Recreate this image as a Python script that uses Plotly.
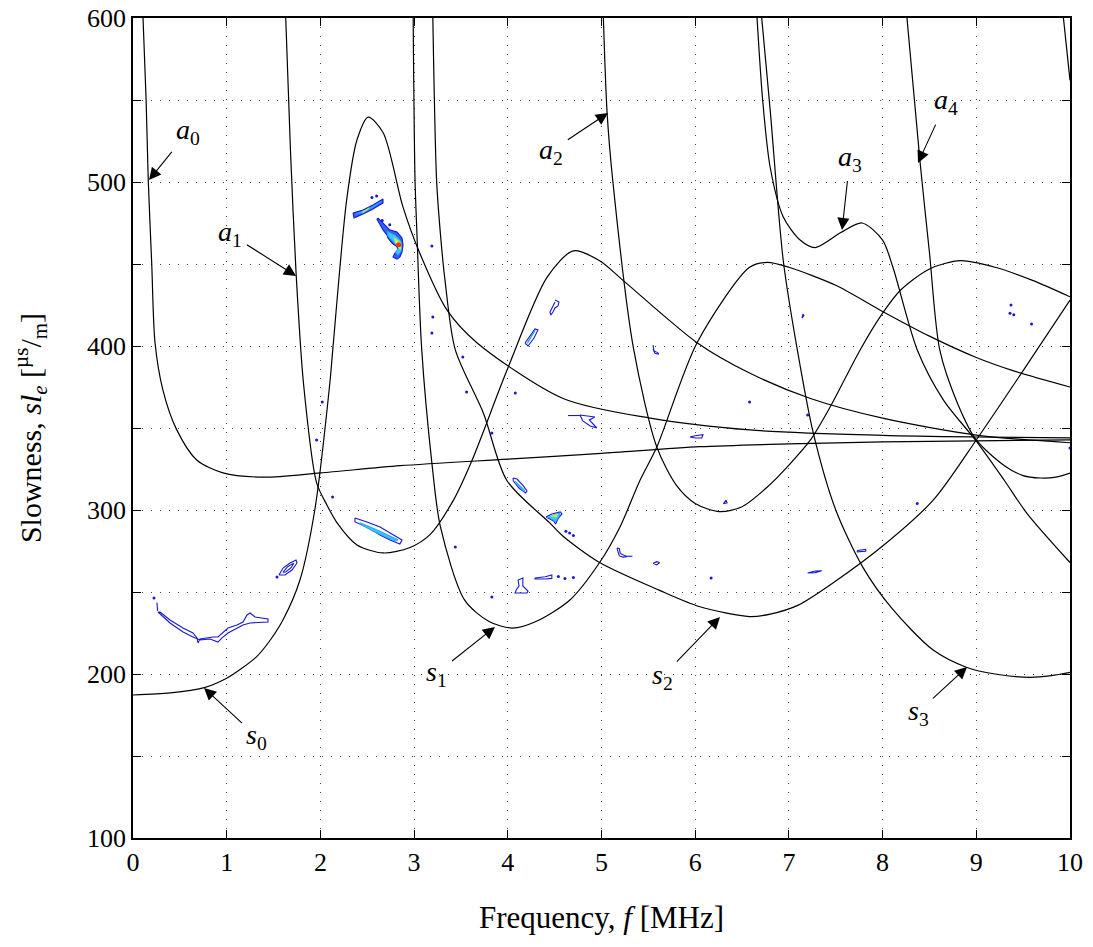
import plotly.graph_objects as go

# ---- Dispersion curves: frequency f [MHz] vs. slowness [us/m] ----
a0_f = [0.107, 0.14, 0.163, 0.20, 0.235, 0.32, 0.466, 0.68, 0.96, 1.39, 2.0, 2.85, 4.0, 5.0, 6.05, 7.0, 8.0, 9.0, 10.0]
a0_s = [600, 550, 501, 450, 402, 373, 349, 330.5, 322.6, 320, 322.6, 327, 331, 334.5, 338.6, 340.3, 341.5, 342.2, 342.7]

s0_f = [0.0, 0.4, 0.75, 1.0, 1.15, 1.32, 1.45, 1.6, 1.78, 1.94, 2.1, 2.134, 2.28, 2.39, 2.51, 2.67, 2.88, 3.06, 3.35, 3.67, 4.59, 5.52, 6.58, 8.0, 9.0, 10.0]
s0_s = [187.2, 188.5, 191.5, 197.4, 203, 210.6, 219.5, 232.9, 257, 300, 377, 399, 489, 525.6, 539.6, 530, 485, 456.7, 422, 402, 368, 356, 348.8, 345.5, 344.5, 344]

a1_f = [1.63, 1.68, 1.74, 1.82, 1.96, 2.07, 2.18, 2.39, 2.67, 2.95, 3.17, 3.42, 3.62, 3.99, 4.42, 4.70, 4.98, 5.23, 6.02, 6.58, 7.23, 8.0, 9.0, 10.0]
a1_s = [600, 520, 445, 377, 316.5, 303, 292, 278.7, 273.8, 277, 285, 306, 330.5, 385, 442, 458, 452, 440, 402, 383.5, 368, 356, 345.7, 341]

s1_f = [2.99, 3.01, 3.03, 3.08, 3.19, 3.28, 3.54, 3.8, 4.05, 4.3, 4.66, 4.98, 5.2, 5.41, 5.59, 6.02, 6.58, 6.77, 7.0, 7.5, 7.97, 8.5, 9.0, 9.39, 10.0]
s1_s = [600, 501, 469, 399, 328.6, 290, 245, 232, 228, 232, 245, 268, 290, 318, 338.4, 402, 448, 451, 448, 437, 422, 406, 393, 385, 375]

s2_f = [3.20, 3.24, 3.28, 3.33, 3.44, 3.74, 3.99, 4.45, 4.59, 4.98, 5.62, 6.05, 6.58, 6.8, 7.1, 7.47, 8.0, 8.54, 9.0, 9.5, 10.0]
s2_s = [600, 501, 469, 440, 397.6, 359, 318, 292, 284, 268, 251, 241, 235, 236.5, 242, 255.5, 278, 306, 342.7, 385, 428]

a2_f = [5.02, 5.06, 5.12, 5.34, 5.59, 5.8, 6.0, 6.26, 6.5, 6.77, 7.01, 7.23, 7.44, 7.76, 8.0, 8.19, 8.5, 8.83, 9.2, 9.6, 10.0]
a2_s = [600, 542, 501, 399, 338.4, 315, 304, 299, 302, 314, 328, 342.7, 362.8, 397.6, 420, 434, 447, 452, 448, 440, 430]

a3_f = [6.66, 6.72, 6.8, 6.94, 7.12, 7.28, 7.55, 7.78, 8.0, 8.11, 8.37, 8.65, 9.0, 9.3, 9.54, 10.0]
a3_s = [600, 550, 509, 478.7, 464.6, 460, 469, 475, 464.6, 448, 397.6, 367, 342, 318, 298, 268]

s3_f = [6.71, 6.8, 6.94, 7.09, 7.26, 7.5, 7.79, 8.1, 8.54, 8.9, 9.2, 9.57, 9.8, 10.0]
s3_s = [600, 544, 452, 397.6, 347, 300, 265, 240, 214.6, 204, 200, 198, 199, 201]

a4_f = [8.26, 8.40, 8.5, 8.61, 8.8, 9.0, 9.3, 9.5, 9.68, 9.85, 10.0]
a4_s = [600, 512, 457, 397.6, 365, 342.7, 327, 321, 319.5, 320, 322.5]

a5_f = [9.93, 10.0]
a5_s = [600, 562]

curves = [(a0_f, a0_s), (s0_f, s0_s), (a1_f, a1_s), (s1_f, s1_s), (s2_f, s2_s),
          (a2_f, a2_s), (a3_f, a3_s), (s3_f, s3_s), (a4_f, a4_s), (a5_f, a5_s)]

# ---- Measured energy contours: lowest level outlines ----
blob_outlines = [
    # long low-frequency ridge
    ([0.288, 0.395, 0.534, 0.640, 0.683, 0.694, 0.715, 0.854, 0.907, 0.950, 1.014, 1.110, 1.174, 1.217, 1.249, 1.302, 1.441,
      1.441, 1.323, 1.249, 1.174, 1.110, 1.014, 0.950, 0.907, 0.822, 0.715, 0.640, 0.534, 0.395, 0.309, 0.267, 0.288],
     [237.8, 232.9, 228.0, 225.0, 222.0, 218.9, 221.3, 222.6, 222.6, 225.0, 228.0, 229.9, 231.7, 236.0, 237.2, 234.8, 233.5,
      231.7, 231.1, 231.1, 229.9, 228.0, 225.0, 222.0, 219.5, 221.3, 220.7, 222.6, 225.6, 231.1, 236.0, 237.8, 237.8]),
    ([0.256, 0.262], [243.5, 238.5]),
    ([1.558, 1.601, 1.676, 1.740, 1.750, 1.697, 1.622, 1.558], [260.4, 264.6, 267.7, 269.5, 267.7, 263.4, 260.4, 260.4]),
    ([1.600, 1.650, 1.715, 1.690, 1.630, 1.600], [262.0, 265.4, 267.6, 265.0, 262.2, 262.0]),
    # streak inside the a1 bowl
    ([2.369, 2.497, 2.636, 2.743, 2.871, 2.849, 2.743, 2.636, 2.497, 2.369, 2.369],
     [295.1, 292.7, 289.6, 286.0, 281.7, 279.3, 281.7, 284.8, 289.6, 292.7, 295.1]),
    ([4.504, 4.546, 4.536, 4.504, 4.482, 4.461, 4.450, 4.482, 4.504], [428.0, 426.8, 424.4, 423.2, 420.7, 418.9, 420.7, 424.4, 426.8]),
    ([4.184, 4.237, 4.290, 4.322, 4.280, 4.216, 4.184], [401.8, 406.1, 410.4, 409.8, 404.9, 400.0, 401.8]),
    ([5.55, 5.56, 5.60, 5.61, 5.57, 5.55], [400.6, 397.0, 396.0, 395.0, 395.6, 398.0]),
    ([4.771, 4.930, 4.870, 4.950, 4.880, 4.800, 4.771], [357.9, 356.7, 354.9, 350.0, 351.2, 354.3, 357.9]),
    ([4.643, 4.771], [357.6, 357.6]),
    ([5.944, 6.000, 6.083, 6.070, 6.000, 5.944], [344.5, 345.3, 345.9, 344.0, 343.9, 344.5]),
    ([4.056, 4.098, 4.160, 4.205, 4.190, 4.120, 4.060, 4.056], [319.5, 318.9, 315.2, 311.6, 310.4, 313.4, 317.7, 319.5]),
    ([4.408, 4.470, 4.560, 4.578, 4.540, 4.510, 4.490, 4.440, 4.408], [295.7, 297.6, 298.8, 297.6, 295.1, 291.5, 293.3, 294.5, 295.7]),
    ([4.109, 4.162, 4.160, 4.216, 4.205, 4.077, 4.090, 4.120, 4.109], [257.3, 258.5, 253.7, 250.6, 249.4, 249.4, 251.2, 253.7, 257.3]),
    ([4.290, 4.400, 4.470, 4.470, 4.400, 4.290, 4.290], [258.5, 259.3, 260.4, 258.3, 257.9, 257.9, 258.5]),
    ([5.165, 5.190, 5.230, 5.270, 5.200, 5.190, 5.165], [276.8, 272.0, 271.3, 271.5, 273.5, 276.5, 276.8]),
    ([5.250, 5.330], [271.8, 271.8]),
    ([5.550, 5.590, 5.620, 5.590, 5.550], [267.5, 268.5, 268.0, 266.5, 267.5]),
    ([7.73, 7.82, 7.82, 7.73, 7.73], [275.3, 276.0, 274.8, 274.5, 275.3]),
    ([7.20, 7.28, 7.35, 7.28, 7.20], [261.6, 262.8, 263.0, 261.8, 261.6]),
    ([6.30, 6.34, 6.33, 6.30], [303.8, 304.4, 306.0, 303.8]),
    ([7.14, 7.16, 7.15, 7.14], [417.0, 418.6, 419.5, 417.0]),
]

# strong ridges near the s0 peak (filled outer level)
strong_f = [[2.348, 2.455, 2.561, 2.668, 2.668, 2.561, 2.455, 2.359, 2.348],
            [2.615, 2.668, 2.743, 2.818, 2.871, 2.882, 2.871, 2.849, 2.818, 2.775, 2.796, 2.828, 2.818,
             2.764, 2.721, 2.711, 2.668, 2.636, 2.604, 2.615]]
strong_s = [[481.1, 482.9, 486.0, 489.6, 487.2, 483.5, 480.5, 478.0, 481.1],
            [478.0, 475.0, 470.7, 469.5, 465.9, 461.6, 457.3, 454.3, 453.0, 454.3, 456.7, 458.5, 460.4,
             462.8, 465.9, 467.6, 470.7, 474.1, 477.3, 478.0]]

# higher contour levels
cyan_f = [[2.38, 2.50, 2.62, 2.655, 2.56, 2.45, 2.38], [2.71, 2.80, 2.86, 2.865, 2.83, 2.80, 2.835, 2.78, 2.72, 2.71],
          [2.42, 2.60, 2.83, 2.80, 2.58, 2.42], [4.21, 4.29, 4.28, 4.21], [4.08, 4.18, 4.17, 4.08],
          [4.43, 4.55, 4.56, 4.51, 4.43]]
cyan_s = [[480.6, 483.2, 487.2, 488.2, 484.4, 481.2, 480.6], [470.0, 467.5, 464.0, 458.0, 455.5, 457.0, 460.0, 463.5, 467.0, 470.0],
          [292.3, 288.0, 281.8, 281.0, 286.5, 291.5], [402.3, 409.4, 408.4, 401.5], [317.5, 312.2, 311.4, 316.6],
          [295.6, 298.2, 297.2, 293.0, 295.6]]
yellow_f = [[2.79, 2.855, 2.86, 2.84, 2.80, 2.79], [2.45, 2.52, 2.51, 2.45], [4.46, 4.53, 4.52, 4.46]]
yellow_s = [[466.0, 463.0, 459.0, 459.5, 463.0, 466.0], [481.8, 484.2, 483.4, 481.2], [296.0, 297.5, 295.8, 296.0]]
red_f = [2.835]
red_s = [461.8]

dots_f = [0.224, 1.537, 3.19, 3.20, 3.19, 3.52, 4.08, 3.83, 3.44, 3.83, 2.02, 1.96, 2.13, 4.62, 4.66, 4.70, 4.54, 4.61, 4.70,
          6.58, 7.20, 6.17, 9.37, 9.36, 9.40, 9.59, 10.0, 8.37, 2.55, 2.60, 2.74, 2.66, 3.56]
dots_s = [246.3, 259.1, 461.0, 417.7, 408.0, 393.3, 371.3, 347.0, 277.4, 247.0, 365.9, 342.7, 307.9, 287.0, 286.0, 284.5, 259.5, 258.3, 258.9,
          365.8, 357.9, 258.5, 425.0, 420.0, 419.0, 413.4, 337.8, 304.0, 490.5, 491.5, 474.0, 476.5, 372.0]

# ---- Mode labels: (letter, index, arrow tip f, s, label f, s) ----
labels = [
    ("a", "0", 0.171, 501.2, 0.585, 530.5),
    ("a", "1", 1.740, 442.7, 1.035, 468.3),
    ("a", "2", 5.069, 542.1, 4.461, 518.9),
    ("a", "3", 7.567, 470.7, 7.652, 514.6),
    ("a", "4", 8.378, 511.6, 8.677, 548.8),
    ("s", "0", 0.758, 191.5, 1.323, 161.6),
    ("s", "1", 3.863, 228.7, 3.244, 200.6),
    ("s", "2", 6.265, 234.8, 5.646, 198.2),
    ("s", "3", 8.901, 204.3, 8.378, 176.8),
]

x_ticks = list(range(0, 11))
y_ticks = list(range(100, 601, 100))

SERIF = "Liberation Serif, DejaVu Serif, serif"
CONTOUR_BLUE = "#1818d0"

fig = go.Figure()

for fx, sy in blob_outlines:
    fig.add_trace(go.Scatter(x=fx, y=sy, mode="lines", line=dict(color=CONTOUR_BLUE, width=1.1),
                             hoverinfo="skip", showlegend=False))
for fx, sy in zip(strong_f, strong_s):
    fig.add_trace(go.Scatter(x=fx, y=sy, mode="lines", fill="toself", fillcolor="#2f62ff",
                             line=dict(color=CONTOUR_BLUE, width=1.1), hoverinfo="skip", showlegend=False))
for fx, sy in zip(cyan_f, cyan_s):
    fig.add_trace(go.Scatter(x=fx, y=sy, mode="lines", fill="toself", fillcolor="#38c8ff",
                             line=dict(color="#2a9cff", width=1), hoverinfo="skip", showlegend=False))
for fx, sy in zip(yellow_f, yellow_s):
    fig.add_trace(go.Scatter(x=fx, y=sy, mode="lines", fill="toself", fillcolor="#e8f040",
                             line=dict(color="#a0f060", width=1), hoverinfo="skip", showlegend=False))
fig.add_trace(go.Scatter(x=red_f, y=red_s, mode="markers", marker=dict(color="#ff3010", size=5),
                         hoverinfo="skip", showlegend=False))
fig.add_trace(go.Scatter(x=dots_f, y=dots_s, mode="markers",
                         marker=dict(color=CONTOUR_BLUE, size=3, symbol="circle"),
                         hoverinfo="skip", showlegend=False))

for fx, sy in curves:
    fig.add_trace(go.Scatter(x=fx, y=sy, mode="lines",
                             line=dict(color="black", width=1.2, shape="spline", smoothing=0.8),
                             hoverinfo="skip", showlegend=False))

# each label sits at the arrow tail; the arrow runs from the label to the curve
for letter, sub, tf, ts, lf, ls in labels:
    fig.add_annotation(x=tf, y=ts, ax=lf, ay=ls, axref="x", ayref="y", xref="x", yref="y",
                       text=f"<i>{letter}</i><sub>{sub}</sub>",
                       font=dict(family=SERIF, size=28, color="black"),
                       showarrow=True, arrowhead=2, arrowsize=2.2, arrowwidth=1.1,
                       arrowcolor="black", startstandoff=4)

axis_common = dict(showline=True, linecolor="black", linewidth=1.5, mirror="ticks",
                   ticks="inside", ticklen=8, tickwidth=1, tickcolor="black",
                   showgrid=True, gridcolor="#444444", gridwidth=1, griddash="1px,8px",
                   zeroline=False, automargin=False,
                   tickfont=dict(family=SERIF, size=26, color="black"))

fig.update_xaxes(range=[0, 10], tickvals=x_ticks, ticktext=[str(v) for v in x_ticks],
                 title=dict(text="Frequency, <i>f</i> [MHz]", font=dict(family=SERIF, size=31, color="black"),
                            standoff=30),
                 **axis_common)
fig.update_yaxes(range=[100, 600], tickvals=y_ticks, ticktext=[str(v) for v in y_ticks],
                 minor=dict(dtick=50, tick0=100, ticks="inside", ticklen=8, tickcolor="black",
                            showgrid=True, gridcolor="#444444", gridwidth=1, griddash="1px,8px"),
                 title=dict(text="Slowness, <i>sl<sub>e</sub></i> [<sup>µs</sup>/<sub>m</sub>]",
                            font=dict(family=SERIF, size=30, color="black"), standoff=37),
                 **axis_common)

fig.update_layout(width=1093, height=947, margin=dict(l=133, r=23, t=18, b=109),
                  paper_bgcolor="white", plot_bgcolor="white")

fig.write_html("out.html")
